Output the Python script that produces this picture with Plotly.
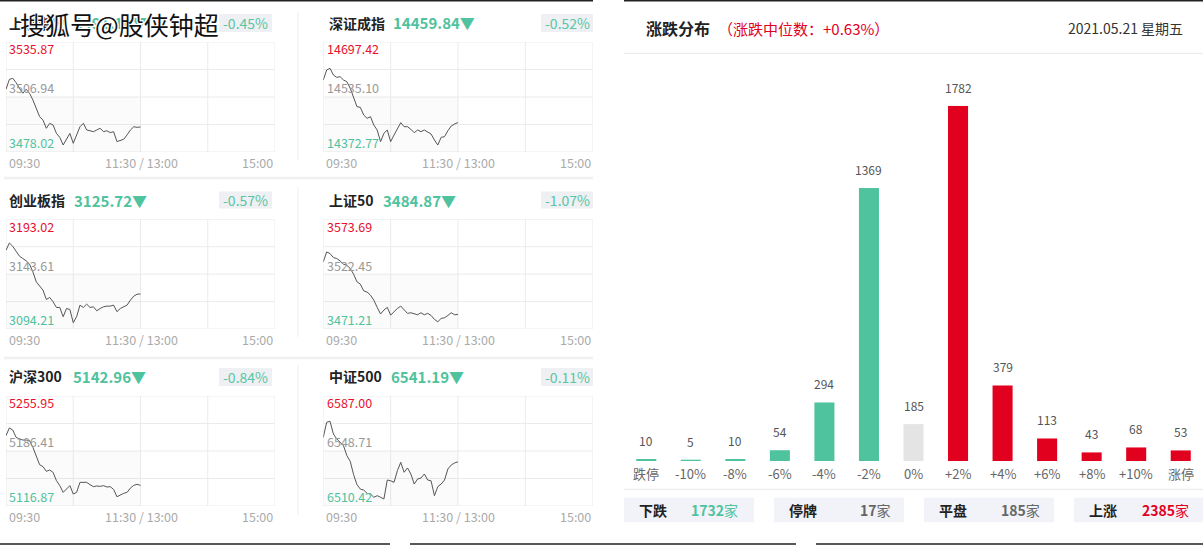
import plotly.graph_objects as go

W, H = 1203, 545
FONT = "Noto Sans CJK SC"

# ---------------- data ----------------
times = list(range(0, 121, 3))  # minutes after 09:30 (morning session)
time_grid = [0, 60, 120, 180, 240]
time_labels = ["09:30", "11:30 / 13:00", "15:00"]

names = ["上证指数", "深证成指", "创业板指", "上证50", "沪深300", "中证500"]
last_prices = ["3491.16", "14459.84", "3125.72", "3484.87", "5142.96", "6541.19"]
pct_changes = ["-0.45%", "-0.52%", "-0.57%", "-1.07%", "-0.84%", "-0.11%"]
range_max = [3535.87, 14697.42, 3193.02, 3573.69, 5255.95, 6587.00]
range_min = [3478.02, 14372.77, 3094.21, 3471.21, 5116.87, 6510.42]
range_mid = ["3506.94", "14535.10", "3143.61", "3522.45", "5186.41", "6548.71"]

sh_vals = [3510.97, 3516.2, 3516.8, 3514.5, 3511.5, 3508.9, 3511.0, 3508.9, 3505.4, 3501.0,
           3496.6, 3494.8, 3490.5, 3493.1, 3492.2, 3487.8, 3485.7, 3481.7, 3484.7, 3487.8,
           3482.6, 3487.5, 3491.3, 3493.1, 3489.6, 3489.2, 3488.7, 3489.6, 3490.5, 3488.7,
           3489.2, 3488.2, 3488.7, 3483.5, 3484.3, 3484.7, 3487.0, 3489.6, 3491.3, 3491.0, 3491.16]
sz_vals = [14585.3, 14614.8, 14619.7, 14600.0, 14593.1, 14595.1, 14585.3, 14580.3, 14560.7, 14536.1,
           14506.6, 14504.6, 14481.9, 14472.1, 14477.1, 14452.4, 14437.7, 14403.3, 14427.9, 14437.7,
           14403.3, 14422.9, 14442.6, 14459.3, 14447.5, 14447.5, 14439.7, 14429.8, 14437.7, 14432.8,
           14437.7, 14432.8, 14425.9, 14408.2, 14393.4, 14416.1, 14418.0, 14435.7, 14449.5, 14455.4, 14459.84]
cy_vals = [3165.1, 3171.7, 3168.7, 3163.6, 3159.8, 3157.7, 3155.6, 3152.6, 3145.7, 3136.7,
           3132.8, 3129.2, 3120.8, 3122.6, 3118.7, 3113.6, 3113.6, 3105.3, 3112.7, 3111.8,
           3099.9, 3105.3, 3115.7, 3113.6, 3116.6, 3113.6, 3114.2, 3110.6, 3112.7, 3114.2,
           3114.8, 3114.8, 3115.7, 3109.8, 3112.7, 3114.2, 3115.7, 3120.2, 3123.8, 3125.6, 3125.72]
sz50_vals = [3533.9, 3543.2, 3541.7, 3537.9, 3537.0, 3534.8, 3531.7, 3530.8, 3527.7, 3522.4,
             3515.3, 3513.1, 3506.9, 3505.7, 3502.9, 3498.2, 3491.4, 3485.2, 3488.9, 3491.4,
             3484.2, 3487.4, 3490.4, 3492.6, 3488.9, 3485.8, 3486.4, 3485.2, 3484.5, 3486.4,
             3484.5, 3485.8, 3483.9, 3480.2, 3478.0, 3481.1, 3481.7, 3483.9, 3486.4, 3484.5, 3484.87]
hs300_vals = [5205.8, 5215.5, 5213.0, 5203.7, 5201.6, 5200.3, 5200.3, 5199.5, 5191.0, 5180.5,
              5169.1, 5166.6, 5160.7, 5162.4, 5159.4, 5148.9, 5142.6, 5134.1, 5138.4, 5142.6,
              5132.0, 5134.1, 5146.8, 5146.8, 5146.8, 5143.8, 5141.3, 5142.2, 5141.7, 5142.6,
              5140.9, 5141.3, 5137.9, 5128.6, 5131.2, 5132.9, 5134.1, 5139.6, 5143.0, 5144.3, 5142.96]
zz500_vals = [6558.2, 6568.7, 6569.4, 6560.5, 6557.1, 6554.7, 6552.4, 6545.5, 6541.5, 6532.2,
              6525.3, 6522.2, 6521.5, 6519.2, 6518.8, 6516.5, 6517.6, 6516.5, 6515.3, 6528.5,
              6528.0, 6526.9, 6535.0, 6540.8, 6533.9, 6536.9, 6532.7, 6525.7, 6529.2, 6529.9,
              6532.7, 6528.5, 6528.0, 6517.6, 6523.9, 6525.7, 6528.5, 6536.2, 6539.0, 6540.4, 6541.19]
series = [sh_vals, sz_vals, cy_vals, sz50_vals, hs300_vals, zz500_vals]

bar_cats = ["跌停", "-10%", "-8%", "-6%", "-4%", "-2%", "0%", "+2%", "+4%", "+6%", "+8%", "+10%", "涨停"]
bar_counts = [10, 5, 10, 54, 294, 1369, 185, 1782, 379, 113, 43, 68, 53]

summary_labels = ["下跌", "停牌", "平盘", "上涨"]
summary_counts = [1732, 17, 185, 2385]

title = "涨跌分布"
subtitle = "（涨跌中位数：+0.63%）"
date_text = "2021.05.21 星期五"
watermark = "搜狐号@股侠钟超"

# ---------------- styles ----------------
GREEN = "#4fc29e"
GREEN_T = "#5ac5a3"
RED = "#e2001f"
GRAY_BAR = "#e4e4e4"
GRID = "#ebebeb"


def fx(px):
    return px / W


def fy(py):
    return 1 - py / H


fig = go.Figure()
shapes = []
ann = []


def text(x, y, s, size=13, color="#333", xanchor="left", weight="normal", **kw):
    ann.append(dict(x=fx(x), y=fy(y), xref="paper", yref="paper", text=s, showarrow=False,
                    xanchor=xanchor, yanchor="middle",
                    font=dict(family=FONT, size=size, color=color, weight=weight), **kw))


col_x = [(6, 275), (323.3, 592.7)]
row_y = [(42, 152), (219.3, 329), (396, 506)]
head_y = [22.7, 200, 376]
box_y = [(14, 32), (191.5, 208.5), (368, 386)]
box_x = [(219, 272), (541, 593)]
name_x = [7, 326.7]
value_x = [72, 390.7, 71.7, 381, 70.7, 389.3]

for i in range(6):
    k = i + 1
    sfx = "" if k == 1 else str(k)
    xr, yr = "x" + sfx, "y" + sfx
    r, c = divmod(i, 2)
    x0, x1 = col_x[c]
    y0, y1 = row_y[r]
    vmin, vmax = range_min[i], range_max[i]
    vmid = float(range_mid[i])
    fig.update_layout(**{
        "xaxis" + sfx: dict(domain=[fx(x0), fx(x1)], range=[time_grid[0], time_grid[-1]],
                            visible=False, anchor=yr, fixedrange=True),
        "yaxis" + sfx: dict(domain=[fy(y1), fy(y0)], range=[vmin, vmax],
                            visible=False, anchor=xr, fixedrange=True),
    })
    # very light shading below previous close over traded period
    shapes.append(dict(type="rect", xref=xr, yref=yr, x0=times[0], x1=times[-1], y0=vmin, y1=vmid,
                       fillcolor="rgba(0,0,0,0.014)", line=dict(width=0), layer="below"))
    for t in time_grid:
        shapes.append(dict(type="line", xref=xr, yref=yr + " domain", x0=t, x1=t, y0=0, y1=1,
                           line=dict(color=GRID, width=1), layer="below"))
    for j in range(5):
        v = vmin + (vmax - vmin) * j / 4
        shapes.append(dict(type="line", xref=xr + " domain", yref=yr, x0=0, x1=1, y0=v, y1=v,
                           line=dict(color=GRID, width=1), layer="below"))
    fig.add_trace(go.Scatter(x=times, y=series[i], mode="lines", line=dict(color="#555555", width=1),
                             xaxis=xr, yaxis=yr, hoverinfo="skip", showlegend=False))
    # value labels
    text(x0 + 1.3, y0 + 6.8, f"{vmax:.2f}", 12.5, "#e8102c")
    text(x0 + 1.3, y0 + 45.8, range_mid[i], 12.5, "#999999")
    text(x0 + 1.3, y0 + 100.4, f"{vmin:.2f}", 12.5, GREEN)
    # time labels
    ty = y1 + 10.5
    text(x0 + 0.5, ty, time_labels[0], 12.5, "#aaaaaa")
    text((x0 + x1) / 2 + 0.6, ty, time_labels[1], 12.5, "#aaaaaa", xanchor="center")
    text(x1, ty, time_labels[2], 12.5, "#aaaaaa", xanchor="right")
    # headers
    hy = head_y[r]
    text(name_x[c], hy, names[i], 14, "#222222", weight="bold")
    text(value_x[i], hy, last_prices[i] + "▼", 15, GREEN, weight="bold")
    bx0, bx1 = box_x[c]
    by0, by1 = box_y[r]
    shapes.append(dict(type="rect", xref="paper", yref="paper", x0=fx(bx0), x1=fx(bx1),
                       y0=fy(by1), y1=fy(by0), fillcolor="#eef0f3", line=dict(width=0), layer="below"))
    text((bx0 + bx1) / 2, (by0 + by1) / 2, pct_changes[i], 14, GREEN_T, xanchor="center")

# panel separators (left side)
for (sy0, sy1) in [(12, 160), (187, 337), (365, 515)]:
    shapes.append(dict(type="line", xref="paper", yref="paper", x0=fx(298), x1=fx(298),
                       y0=fy(sy0), y1=fy(sy1), line=dict(color="#eeeeee", width=1)))
for sy in [178, 358]:
    shapes.append(dict(type="line", xref="paper", yref="paper", x0=fx(4), x1=fx(593),
                       y0=fy(sy), y1=fy(sy), line=dict(color="#f0f0f0", width=2.5)))

# top / bottom dark rules
for (a, b) in [(0, 593), (624, 1203)]:
    shapes.append(dict(type="line", xref="paper", yref="paper", x0=fx(a), x1=fx(b),
                       y0=fy(0.8), y1=fy(0.8), line=dict(color="#222222", width=1.6)))
for (a, b) in [(0, 390), (410, 796), (816, 1203)]:
    shapes.append(dict(type="line", xref="paper", yref="paper", x0=fx(a), x1=fx(b),
                       y0=fy(544), y1=fy(544), line=dict(color="#222222", width=1.6)))

# watermark over first header
ann.append(dict(x=fx(18), y=fy(23.5), xref="paper", yref="paper", text=watermark, showarrow=False,
                xanchor="left", yanchor="middle",
                font=dict(family=FONT, size=25, color="#111111",
                          shadow="1px 1px 0 #fff, -1px -1px 0 #fff, 1px -1px 0 #fff, -1px 1px 0 #fff, "
                                 "0 1px 0 #fff, 0 -1px 0 #fff, 1px 0 0 #fff, -1px 0 0 #fff")))

# ---------------- right panel: distribution ----------------
text(644, 28, title, 16, "#222222", weight="bold")
text(716, 28, subtitle, 15, RED)
text(1185, 28, date_text, 14, "#333333", xanchor="right")
shapes.append(dict(type="line", xref="paper", yref="paper", x0=fx(624), x1=fx(1203),
                   y0=fy(53.3), y1=fy(53.3), line=dict(color="#e6e6e6", width=1)))

bar_colors = []
for cat in bar_cats:
    if cat.startswith("-") or cat == "跌停":
        bar_colors.append(GREEN)
    elif cat == "0%":
        bar_colors.append(GRAY_BAR)
    else:
        bar_colors.append(RED)

fig.add_trace(go.Bar(x=bar_cats, y=bar_counts, marker=dict(color=bar_colors, line=dict(width=0)),
                     xaxis="x7", yaxis="y7", hoverinfo="skip", showlegend=False))
fig.update_layout(
    xaxis7=dict(domain=[fx(624), fx(1203)], visible=False, anchor="y7", fixedrange=True,
                type="category", range=[-0.5, len(bar_cats) - 0.5]),
    yaxis7=dict(domain=[fy(461), fy(105.7)], range=[0, max(bar_counts)], visible=False,
                anchor="x7", fixedrange=True),
    bargap=0.55,
)
for cat, v in zip(bar_cats, bar_counts):
    ann.append(dict(x=cat, y=v, xref="x7", yref="y7", text=str(v), showarrow=False,
                    xanchor="center", yanchor="bottom", yshift=8,
                    font=dict(family=FONT, size=12, color="#555555")))
    ann.append(dict(x=cat, y=fy(473), xref="x7", yref="paper", text=cat, showarrow=False,
                    xanchor="center", yanchor="middle",
                    font=dict(family=FONT, size=13, color="#666666")))

shapes.append(dict(type="line", xref="paper", yref="paper", x0=fx(624), x1=fx(1203),
                   y0=fy(489.3), y1=fy(489.3), line=dict(color="#e6e6e6", width=1)))

# summary boxes
sum_box_x = [(624, 754), (774, 904), (924, 1054), (1074, 1203)]
sum_label_cx = [653, 803, 953, 1103]
sum_num_x = [689, 857.7, 998.8, 1139.5]
sum_colors = [GREEN, "#666666", "#666666", RED]
for j in range(4):
    a, b = sum_box_x[j]
    shapes.append(dict(type="rect", xref="paper", yref="paper", x0=fx(a), x1=fx(b),
                       y0=fy(522.3), y1=fy(497.7), fillcolor="#f2f3f8", line=dict(width=0), layer="below"))
    text(sum_label_cx[j], 510, summary_labels[j], 14, "#222222", xanchor="center", weight="bold")
    ann.append(dict(x=fx(sum_num_x[j]), y=fy(510), xref="paper", yref="paper",
                    text=f"<b>{summary_counts[j]}</b>家", showarrow=False,
                    xanchor="left", yanchor="middle",
                    font=dict(family=FONT, size=14, color=sum_colors[j])))

fig.update_layout(
    width=W, height=H, margin=dict(l=0, r=0, t=0, b=0),
    paper_bgcolor="white", plot_bgcolor="rgba(0,0,0,0)",
    shapes=shapes, annotations=ann, showlegend=False,
    font=dict(family=FONT),
)

fig.write_html("out.html", config={"displayModeBar": False})
